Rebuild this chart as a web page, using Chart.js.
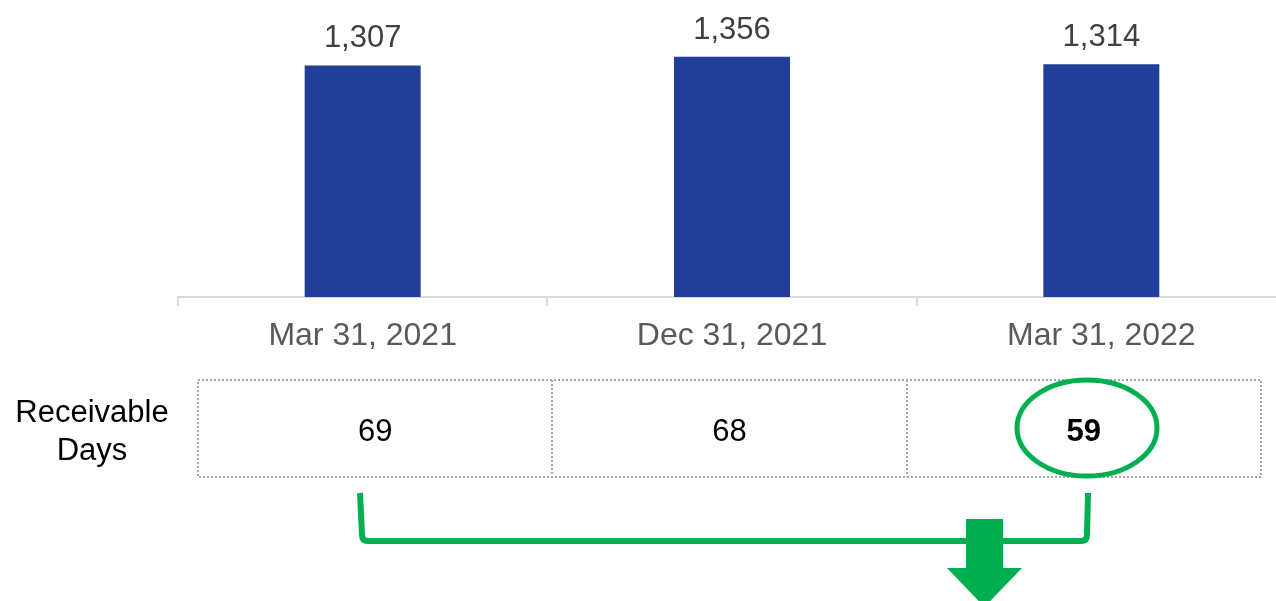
<!DOCTYPE html>
<html>
<head>
<meta charset="utf-8">
<script src="https://cdn.jsdelivr.net/npm/chart.js@4"></script>
<style>
  html, body { margin: 0; padding: 0; overflow: hidden; background: #fff; }
  #wrap { position: relative; width: 1290px; height: 601px; }
</style>
</head>
<body>
<div id="wrap"><canvas id="chart1"></canvas></div>
<script>
// data
const periods = ['Mar 31, 2021', 'Dec 31, 2021', 'Mar 31, 2022'];
const receivables = [1307, 1356, 1314];
const receivableDays = [69, 68, 59];
const rowLabel = ['Receivable', 'Days'];
const highlightIndex = 2;

const FONT = '"Liberation Sans", Arial, sans-serif';
const GREEN = '#00b050';

// table, ring, bracket and arrow
const overlay = {
    id: 'overlay',
    afterDatasetsDraw(chart) {
        const ctx = chart.ctx;
        const meta = chart.getDatasetMeta(0);
        ctx.save();

        // value labels above bars
        ctx.font = '31px ' + FONT;
        ctx.fillStyle = '#404040';
        ctx.textAlign = 'center';
        ctx.textBaseline = 'alphabetic';
        meta.data.forEach((bar, i) => {
            ctx.fillText(receivables[i].toLocaleString('en-US'), bar.x, bar.y - 18);
        });

        // dotted table
        const left = 198, right = 1261, top = 380, bottom = 477;
        const cellW = (right - left) / receivableDays.length;
        ctx.strokeStyle = '#a6a6a6';
        ctx.lineWidth = 2;
        ctx.setLineDash([2, 2]);
        ctx.strokeRect(left, top, right - left, bottom - top);
        ctx.beginPath();
        for (let i = 1; i < receivableDays.length; i++) {
            const x = Math.round(left + cellW * i);
            ctx.moveTo(x, top);
            ctx.lineTo(x, bottom);
        }
        ctx.stroke();
        ctx.setLineDash([]);

        ctx.fillStyle = '#000';
        receivableDays.forEach((v, i) => {
            ctx.font = (i === highlightIndex ? 'bold ' : '') + '31px ' + FONT;
            ctx.fillText(String(v), left + cellW * (i + 0.5), 441);
        });

        ctx.font = '31px ' + FONT;
        ctx.fillText(rowLabel[0], 92, 422);
        ctx.fillText(rowLabel[1], 92, 460);

        // ring around the highlighted value
        ctx.strokeStyle = GREEN;
        ctx.lineWidth = 5;
        ctx.beginPath();
        ctx.ellipse(1087, 428, 70, 48, 0, 0, Math.PI * 2);
        ctx.stroke();

        // bracket
        ctx.lineWidth = 6;
        ctx.beginPath();
        ctx.moveTo(360, 493);
        ctx.lineTo(362, 535);
        ctx.quadraticCurveTo(362, 541, 368, 541);
        ctx.lineTo(1081, 541);
        ctx.quadraticCurveTo(1087, 541, 1087, 535);
        ctx.lineTo(1088, 493);
        ctx.stroke();

        // down arrow
        ctx.fillStyle = GREEN;
        ctx.beginPath();
        ctx.moveTo(966, 519);
        ctx.lineTo(1003, 519);
        ctx.lineTo(1003, 568);
        ctx.lineTo(1022, 568);
        ctx.lineTo(984.5, 607);
        ctx.lineTo(947, 568);
        ctx.lineTo(966, 568);
        ctx.closePath();
        ctx.fill();

        ctx.restore();
    }
};

const ctx1 = document.getElementById('chart1').getContext('2d');

var chart1 = new Chart(ctx1, {
    type: 'bar',
    data: {
        labels: periods,
        datasets: [{
            label: 'Receivables',
            data: receivables,
            backgroundColor: '#213e99',
            barPercentage: 0.314,
            categoryPercentage: 1,
        }],
    },
    options: {
        responsive: true,
        maintainAspectRatio: false,
        animation: false,
        layout: {
            padding: { left: 178, right: 4, top: 0, bottom: 0 }
        },
        plugins: {
            legend: { display: false },
            tooltip: { enabled: false },
        },
        scales: {
            x: {
                grid: {
                    display: true,
                    drawOnChartArea: false,
                    drawTicks: true,
                    tickLength: 9,
                    color: '#d9d9d9',
                    lineWidth: 2,
                },
                border: { color: '#d9d9d9', width: 2 },
                ticks: {
                    color: '#595959',
                    padding: 11,
                    font: { family: FONT, size: 32 },
                    maxRotation: 0,
                },
                afterFit(scale) {
                    scale.height = 304;
                },
            },
            y: {
                display: false,
                min: 0,
                max: 1676,
            },
        },
    },
    plugins: [overlay],
});
</script>
</body>
</html>
